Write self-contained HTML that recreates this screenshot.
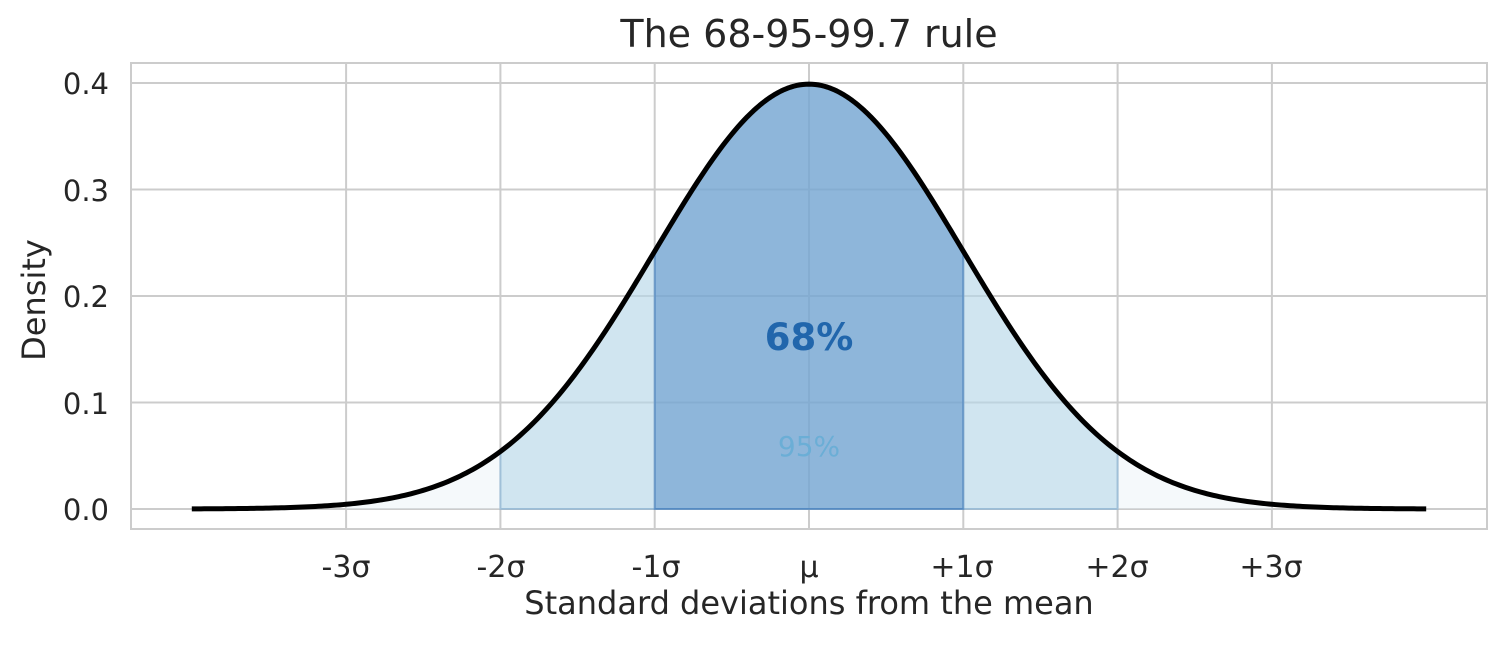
<!DOCTYPE html>
<html><head><meta charset="utf-8">
<style>
html,body{margin:0;padding:0;background:#fff;}
svg text{font-family:"DejaVu Sans","Liberation Sans",sans-serif;fill:#262626;}
</style></head>
<body>
<svg id="s" width="1506" height="641" xmlns="http://www.w3.org/2000/svg">
<rect width="1506" height="641" fill="#fff"/>
<g id="grid" stroke="#cccccc" stroke-width="2"></g>
<g id="fills"></g>
<path id="curve" fill="none" stroke="#000" stroke-width="5" stroke-linejoin="round"/>
<rect x="131" y="63" width="1356" height="466" fill="none" stroke="#cccccc" stroke-width="2"/>
<text x="809" y="47" style="font-size:38px" text-anchor="middle">The 68-95-99.7 rule</text>
<text x="809" y="350" style="font-size:37px;font-weight:bold;fill:#2166ac" text-anchor="middle">68%</text>
<text x="809" y="456" style="font-size:28px;fill:#6baed6" text-anchor="middle">95%</text>
<text style="font-size:29px" x="109" y="94" text-anchor="end">0.4</text>
<text style="font-size:29px" x="109" y="201" text-anchor="end">0.3</text>
<text style="font-size:29px" x="109" y="307" text-anchor="end">0.2</text>
<text style="font-size:29px" x="109" y="414" text-anchor="end">0.1</text>
<text style="font-size:29px" x="109" y="520" text-anchor="end">0.0</text>
<text style="font-size:30px" x="346" y="577" text-anchor="middle">-3σ</text>
<text style="font-size:30px" x="501" y="577" text-anchor="middle">-2σ</text>
<text style="font-size:30px" x="656" y="577" text-anchor="middle">-1σ</text>
<text style="font-size:30px" x="809" y="577" text-anchor="middle">μ</text>
<text style="font-size:30px" x="962" y="577" text-anchor="middle">+1σ</text>
<text style="font-size:30px" x="1117" y="577" text-anchor="middle">+2σ</text>
<text style="font-size:30px" x="1271" y="577" text-anchor="middle">+3σ</text>
<text x="809" y="614" style="font-size:32px" text-anchor="middle">Standard deviations from the mean</text>
<text transform="translate(45,300) rotate(-90)" style="font-size:32px" text-anchor="middle">Density</text>
</svg>
<script>
var cx=809,sx=154.3,y0=509,sy=1065;
function X(x){return cx+x*sx;}
function f(x){return Math.exp(-x*x/2)/Math.sqrt(2*Math.PI);}
function Y(v){return y0-v*sy;}
var g=document.getElementById('grid'),ns="http://www.w3.org/2000/svg";
[-3,-2,-1,0,1,2,3].forEach(function(k){var l=document.createElementNS(ns,'line');l.setAttribute('x1',X(k));l.setAttribute('x2',X(k));l.setAttribute('y1',63);l.setAttribute('y2',529);g.appendChild(l);});
[0,0.1,0.2,0.3,0.4].forEach(function(v){var l=document.createElementNS(ns,'line');l.setAttribute('x1',131);l.setAttribute('x2',1487);l.setAttribute('y1',Y(v));l.setAttribute('y2',Y(v));g.appendChild(l);});
function area(a,b,fill,stroke){var d='M'+X(a)+','+y0;for(var i=0;i<=200;i++){var x=a+(b-a)*i/200;d+=' L'+X(x).toFixed(2)+','+Y(f(x)).toFixed(2);}d+=' L'+X(b)+','+y0+'Z';var p=document.createElementNS(ns,'path');p.setAttribute('d',d);p.setAttribute('fill',fill);p.setAttribute('stroke',stroke);p.setAttribute('stroke-width','2');document.getElementById('fills').appendChild(p);}
area(-3,3,'rgba(230,240,245,0.4)','none');
area(-2,2,'rgba(158,202,225,0.42)','rgba(120,170,210,0.5)');
area(-1,1,'rgba(75,135,195,0.5)','rgba(60,120,185,0.55)');
var d='';for(var i=0;i<=400;i++){var x=-4+8*i/400;d+=(i?' L':'M')+X(x).toFixed(2)+','+Y(f(x)).toFixed(2);}
document.getElementById('curve').setAttribute('d',d);
</script>
</body></html>
